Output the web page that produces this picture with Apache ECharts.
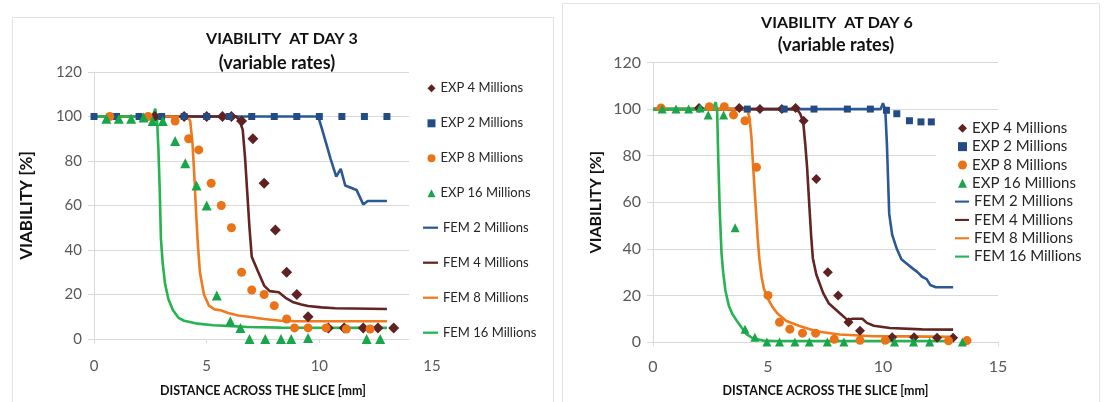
<!DOCTYPE html>
<html>
<head>
<meta charset="utf-8">
<script src="https://cdn.jsdelivr.net/npm/echarts@6/dist/echarts.min.js"></script>
<style>
  html, body { margin: 0; padding: 0; background: #fff; }
  #chart { width: 1104px; height: 402px; }
</style>
</head>
<body>
<div id="chart"></div>
<script>
// [distance across the slice (mm), viability (%)]
// ---- day 3 ----
var day3Exp4 = [[2.7,100],[4.0,100],[5.0,100],[5.7,100],[6.1,100],[6.55,98],[7.05,90],[7.55,70],[8.05,49],[8.55,30],[9.0,20],[9.5,10],[10.4,5],[11.1,5],[11.95,5],[12.6,5],[13.3,5]];
var day3Exp2 = [[0,100],[1,100],[2,100],[3,100],[4,100],[5,100],[6,100],[7,100],[8,100],[9,100],[10,100],[11,100],[12,100],[13,100]];
var day3Exp8 = [[0.7,100],[2.4,100],[3.6,98],[4.2,90],[4.65,85],[5.2,70],[5.65,60],[6.1,50],[6.55,30],[7.0,22],[7.55,20],[8.0,15],[8.55,9],[8.9,5],[9.5,5],[10.3,5],[11.2,4.5],[12.25,4.5]];
var day3Exp16 = [[0.55,99],[1.1,99],[1.65,99],[2.2,99.5],[2.6,98],[3.05,98],[3.6,89],[4.05,79],[4.55,69],[5.0,60],[5.45,19.5],[6.05,8],[6.5,5],[6.9,0],[7.6,0],[8.3,0],[8.75,0],[9.5,0.5],[12.1,0],[12.7,0]];
var day3Fem2 = [[0,100],[9.95,100],[10.1,95],[10.3,88],[10.5,81],[10.75,73],[10.95,76.5],[11.15,69],[11.4,68],[11.65,67],[11.95,60.5],[12.15,62],[13.0,62]];
var day3Fem4 = [[0,100],[6.3,100],[6.45,98.5],[6.6,94],[6.7,82],[6.8,66],[6.9,50],[7.0,37],[7.25,31],[7.55,24],[7.8,21.5],[8.2,21],[8.5,18.5],[8.85,16.5],[9.2,15.5],[9.5,14.8],[10.1,14.2],[10.7,13.8],[13.0,13.5]];
var day3Fem8 = [[0,100],[4.15,100],[4.27,98],[4.37,88],[4.45,74],[4.52,59],[4.6,44],[4.7,30],[4.88,20],[5.1,15],[5.35,13.3],[5.65,12.8],[5.95,11.7],[6.4,10.6],[6.85,10],[7.55,9],[8.3,8.2],[9.0,8],[13.0,8]];
var day3Fem16 = [[0,100],[2.6,100],[2.72,103.5],[2.8,98],[2.86,85],[2.92,66],[2.97,45],[3.05,34],[3.15,25],[3.3,18],[3.5,13],[3.75,9.5],[4.0,8.2],[4.6,6.9],[5.3,6.2],[6.1,5.8],[6.8,5.4],[8.3,5.1],[13.0,5]];
// ---- day 6 ----
var day6Exp4 = [[2.0,100.5],[3.75,100.5],[4.65,100],[5.6,100],[6.2,100.5],[6.55,95],[7.1,70],[7.6,30],[8.05,20],[8.5,8.5],[9.0,4.8],[10.4,2],[11.35,2],[12.35,1.8],[13.05,1.8]];
var day6Exp2 = [[4.1,100],[5.7,100],[7.0,100],[8.45,100],[9.45,100],[10.15,99.5],[10.6,98],[11.15,95],[11.65,94.5],[12.1,94.5]];
var day6Exp8 = [[0.35,100.5],[2.45,101],[3.1,101],[3.5,97.5],[4.0,95],[4.5,75],[5.0,20],[5.5,8.5],[5.95,5.5],[6.5,3.8],[7.07,3.8],[7.88,1.2],[9.0,0.7],[10.1,0.7],[12.85,0.5],[13.65,0.6]];
var day6Exp16 = [[0.4,100],[1.0,100],[1.55,100],[2.05,100.5],[2.4,97.5],[3.07,97.5],[3.57,49],[4.0,5.5],[4.43,2],[4.95,0],[5.5,0],[6.17,0],[6.8,0],[7.58,0],[8.3,0],[10.5,0],[11.33,0],[12.03,0],[13.45,0]];
var day6Fem2 = [[0,100],[9.9,100],[10.0,102.5],[10.1,99.5],[10.17,85],[10.22,70],[10.27,55],[10.4,46],[10.6,40],[10.8,35.5],[11.05,33.5],[11.3,31.5],[11.5,30],[11.7,28],[11.9,27],[12.05,24.5],[12.3,23.5],[13.05,23.5]];
var day6Fem4 = [[0,100],[6.25,100],[6.4,98],[6.53,94.5],[6.62,85],[6.7,75],[6.8,58],[6.88,45],[6.95,36],[7.1,29],[7.4,21],[7.65,16.5],[8.05,13],[8.45,9.5],[8.7,10],[9.1,10],[9.3,8.2],[9.6,7],[10.3,6],[11.7,5.4],[13.05,5.3]];
var day6Fem8 = [[0,100],[4.1,100],[4.2,96],[4.28,88],[4.35,76],[4.42,65],[4.48,56],[4.55,45],[4.62,36],[4.72,28],[4.82,23],[5.0,18.5],[5.2,15],[5.4,12.3],[5.8,9],[6.4,6.8],[7.1,4.6],[8.1,3.2],[9.6,2.5],[11.0,2.4],[13.05,2.2]];
var day6Fem16 = [[0,100],[2.6,100],[2.73,103],[2.79,99],[2.84,78],[2.9,57],[2.98,38],[3.05,30],[3.15,22],[3.3,15.5],[3.45,12],[3.65,9],[3.85,6.2],[4.05,3.5],[4.35,1.5],[4.8,0.6],[5.3,0.4],[13.05,0.4]];

var expNames = ['EXP 4 Millions','EXP 2 Millions','EXP 8 Millions','EXP 16 Millions'];
var femNames = ['FEM 2 Millions','FEM 4 Millions','FEM 8 Millions','FEM 16 Millions'];
var titles = ['VIABILITY  AT DAY 3', 'VIABILITY  AT DAY 6'];
var subTitle = '(variable rates)';
var xName = 'DISTANCE ACROSS THE SLICE [mm]';
var yName = 'VIABILITY [%]';

var FONT = 'Lato, "Liberation Sans", Arial, sans-serif';
var cBrown = '#5f2222', cBlue = '#234c86', cOrange = '#ea7317', cGreen = '#17a64a';
var lBrown = '#632424', lBlue = '#2b5996', lOrange = '#f07a1f', lGreen = '#27b350';
var lineIcon = 'path://M0,0H20V3H0Z';

function scat(name, data, sym, size, color, gi) {
  return { type: 'scatter', name: name, data: data, symbol: sym, symbolSize: size,
    itemStyle: { color: color, opacity: 1 }, xAxisIndex: gi, yAxisIndex: gi, z: 3 };
}
function fem(name, data, color, gi) {
  return { type: 'line', name: name, data: data, symbol: 'none', showSymbol: false,
    lineStyle: { color: color, width: 2.6 }, itemStyle: { color: color },
    xAxisIndex: gi, yAxisIndex: gi, z: 2 };
}

function xAx(gi, fs, margin, gap) {
  return { gridIndex: gi, type: 'value', min: 0, max: 15, interval: 5,
    name: xName, nameLocation: 'middle', nameGap: gap,
    nameTextStyle: { fontFamily: FONT, fontWeight: 'bold', fontSize: 12.5, color: '#111' },
    axisLine: { show: true, onZero: false, lineStyle: { color: '#d9d9d9', width: 1 } },
    axisTick: { show: true, length: 4, lineStyle: { color: '#d9d9d9' } },
    axisLabel: { fontFamily: FONT, fontSize: fs, color: '#595959', margin: margin },
    splitLine: { show: false } };
}
function yAx(gi, fs, gap, nfs) {
  return { gridIndex: gi, type: 'value', min: 0, max: 120, interval: 20,
    name: yName, nameLocation: 'middle', nameGap: gap, nameRotate: 90,
    nameTextStyle: { fontFamily: FONT, fontWeight: 'bold', fontSize: nfs, color: '#111' },
    axisLine: { show: true, lineStyle: { color: '#d9d9d9', width: 1 } },
    axisTick: { show: true, length: 6, lineStyle: { color: '#d9d9d9' } },
    axisLabel: { fontFamily: FONT, fontSize: fs, color: '#595959', margin: 12 },
    splitLine: { show: true, lineStyle: { color: '#d9d9d9', width: 1 } } };
}

var series = [
  scat('EXP 4 Millions', day3Exp4, 'diamond', 11, cBrown, 0),
  scat('EXP 2 Millions', day3Exp2, 'rect', 7, cBlue, 0),
  scat('EXP 8 Millions', day3Exp8, 'circle', 9, cOrange, 0),
  scat('EXP 16 Millions', day3Exp16, 'triangle', 10, cGreen, 0),
  fem('FEM 2 Millions', day3Fem2, lBlue, 0),
  fem('FEM 4 Millions', day3Fem4, lBrown, 0),
  fem('FEM 8 Millions', day3Fem8, lOrange, 0),
  fem('FEM 16 Millions', day3Fem16, lGreen, 0),
  scat('EXP 4 Millions', day6Exp4, 'diamond', 10, cBrown, 1),
  scat('EXP 2 Millions', day6Exp2, 'rect', 7, cBlue, 1),
  scat('EXP 8 Millions', day6Exp8, 'circle', 9, cOrange, 1),
  scat('EXP 16 Millions', day6Exp16, 'triangle', 9, cGreen, 1),
  fem('FEM 2 Millions', day6Fem2, lBlue, 1),
  fem('FEM 4 Millions', day6Fem4, lBrown, 1),
  fem('FEM 8 Millions', day6Fem8, lOrange, 1),
  fem('FEM 16 Millions', day6Fem16, lGreen, 1)
];

var titleStyle = { fontFamily: FONT, fontWeight: 'bold', fontSize: 16, color: '#111', lineHeight: 20 };
var subStyle = { fontFamily: FONT, fontWeight: 'bold', fontSize: 18, color: '#111', lineHeight: 20 };
var legTxtL = { fontFamily: FONT, fontSize: 13, color: '#262626', lineHeight: 14 };
var legTxtR = { fontFamily: FONT, fontSize: 15, color: '#262626', lineHeight: 16 };

var option = {
  animation: false,
  backgroundColor: '#fff',
  title: [
    { text: titles[0], left: 282, top: 29, textAlign: 'center', padding: 0, textStyle: titleStyle },
    { text: subTitle, left: 277, top: 53, textAlign: 'center', padding: 0, textStyle: subStyle },
    { text: titles[1], left: 837, top: 13, textAlign: 'center', padding: 0, textStyle: titleStyle },
    { text: subTitle, left: 836, top: 35, textAlign: 'center', padding: 0, textStyle: subStyle }
  ],
  graphic: [
    { type: 'rect', shape: { x: 12.5, y: 17.5, width: 541, height: 400 }, style: { fill: null, stroke: '#e3e3e3', lineWidth: 1 }, z: -10, silent: true },
    { type: 'rect', shape: { x: 562.5, y: 3.5, width: 537, height: 410 }, style: { fill: null, stroke: '#e3e3e3', lineWidth: 1 }, z: -10, silent: true },
    // white legend boxes laid over the plot areas
    { type: 'rect', shape: { x: 409, y: 66, width: 30, height: 284 }, style: { fill: '#fff' }, z: 1, silent: true },
    { type: 'rect', shape: { x: 936, y: 113, width: 66, height: 159 }, style: { fill: '#fff' }, z: 1, silent: true }
  ],
  grid: [
    { left: 94, top: 72, width: 338, height: 272 },
    { left: 653, top: 62.5, width: 345, height: 280 }
  ],
  xAxis: [xAx(0, 15, 20, 45), xAx(1, 16, 17, 42)],
  yAxis: [yAx(0, 15, 59, 17), yAx(1, 16, 49, 16)],
  legend: [
    { data: expNames, orient: 'vertical', left: 427.5, top: 81.3, padding: 0,
      itemWidth: 8, itemHeight: 8, itemGap: 21, selectedMode: false, textStyle: legTxtL },
    { data: femNames.map(function (n) { return { name: n, icon: lineIcon }; }),
      orient: 'vertical', left: 423, top: 220.7, padding: 0,
      itemWidth: 15, itemHeight: 2.5, itemGap: 21, selectedMode: false, textStyle: legTxtL },
    { data: expNames, orient: 'vertical', left: 958, top: 120.3, padding: 0,
      itemWidth: 9, itemHeight: 9, itemGap: 2.33, selectedMode: false, textStyle: legTxtR },
    { data: femNames.map(function (n) { return { name: n, icon: lineIcon }; }),
      orient: 'vertical', left: 955, top: 193.6, padding: 0,
      itemWidth: 14, itemHeight: 2.5, itemGap: 2.33, selectedMode: false, textStyle: legTxtR }
  ],
  series: series
};

var myChart = echarts.init(document.getElementById('chart'));
myChart.setOption(option);
</script>
</body>
</html>
